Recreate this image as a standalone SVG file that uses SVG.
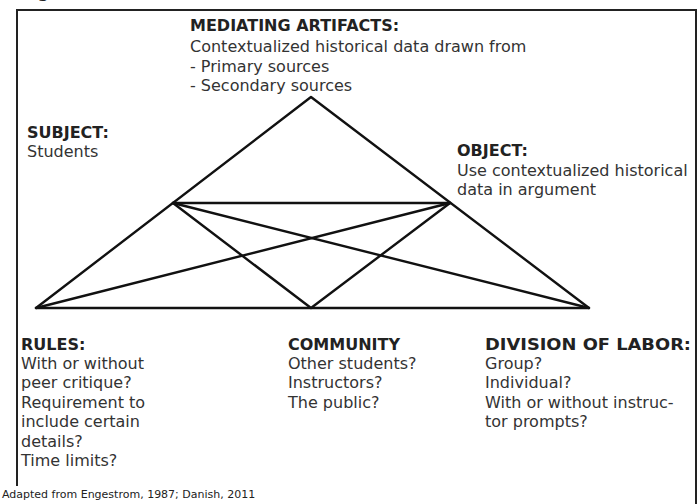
<svg xmlns="http://www.w3.org/2000/svg" width="700" height="504" viewBox="0 0 700 504">
<style>
text{font-family:"DejaVu Sans",Verdana,sans-serif;font-size:16px;fill:#333}
.h{font-weight:bold;fill:#222}
.ln{stroke:#111;stroke-width:2.4;fill:none;stroke-linecap:round;stroke-linejoin:round}
.foot{font-size:11px;fill:#222}
</style>
<rect width="700" height="504" fill="#fff"/>
<text class="h" x="20" y="-3" style="font-size:17px">Figure</text>
<rect x="17" y="10" width="679" height="520" fill="none" stroke="#222" stroke-width="2"/>
<g id="connectors">
<path class="ln" d="M311,97 L36,308 L589,308 Z"/>
<path class="ln" d="M173,203 L450,203"/>
<path class="ln" d="M173,203 L311,308 L450,203"/>
<path class="ln" d="M173,203 L589,308"/>
<path class="ln" d="M450,203 L36,308"/>
</g>
<g id="mediating">
<text class="h" x="190" y="31">MEDIATING ARTIFACTS:</text>
<text x="190" y="52">Contextualized historical data drawn from</text>
<text x="190" y="72">- Primary sources</text>
<text x="190" y="91">- Secondary sources</text>
</g>
<g id="subject">
<text class="h" x="27" y="138">SUBJECT:</text>
<text x="27" y="157">Students</text>
</g>
<g id="object">
<text class="h" x="457" y="156">OBJECT:</text>
<text x="457" y="176">Use contextualized historical</text>
<text x="457" y="195">data in argument</text>
</g>
<g id="rules">
<text class="h" x="21" y="350">RULES:</text>
<text x="21" y="369">With or without</text>
<text x="21" y="388">peer critique?</text>
<text x="21" y="408">Requirement to</text>
<text x="21" y="427">include certain</text>
<text x="21" y="447">details?</text>
<text x="21" y="466">Time limits?</text>
</g>
<g id="community">
<text class="h" x="288" y="350">COMMUNITY</text>
<text x="288" y="369">Other students?</text>
<text x="288" y="388">Instructors?</text>
<text x="288" y="408">The public?</text>
</g>
<g id="division">
<text class="h" x="485" y="350" textLength="206" lengthAdjust="spacingAndGlyphs">DIVISION OF LABOR:</text>
<text x="485" y="369">Group?</text>
<text x="485" y="388">Individual?</text>
<text x="485" y="408">With or without instruc-</text>
<text x="485" y="427">tor prompts?</text>
</g>
<g id="footer">
<rect x="0" y="486" width="258" height="18" fill="#fff"/>
<text class="foot" x="2" y="498">Adapted from Engestrom, 1987; Danish, 2011</text>
</g>
</svg>
